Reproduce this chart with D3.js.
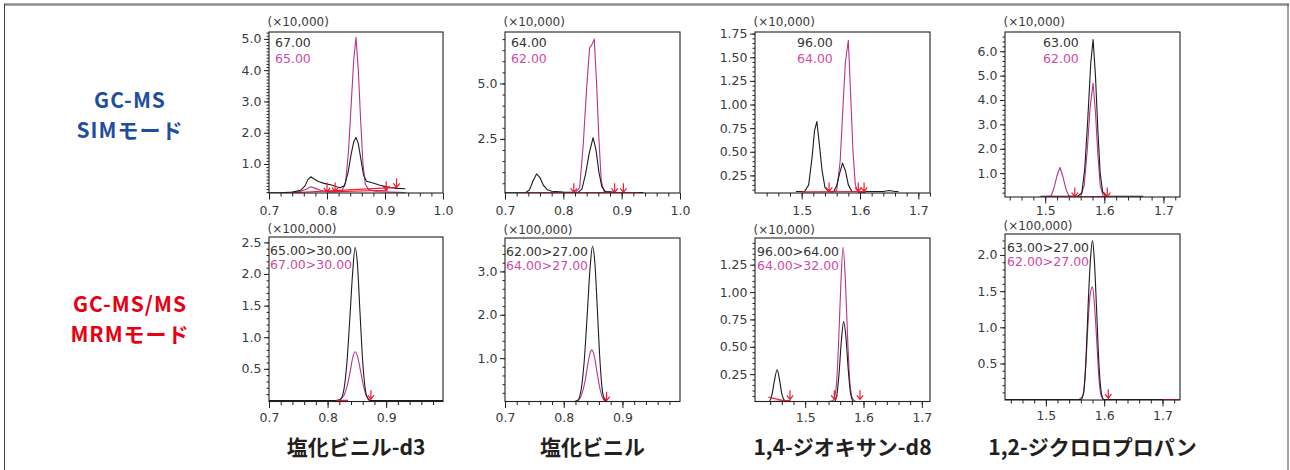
<!DOCTYPE html>
<html lang="ja">
<head>
<meta charset="utf-8">
<title>GC-MS SIM / GC-MS/MS MRM</title>
<script src="https://cdn.jsdelivr.net/npm/d3@7"></script>
<style>
  body { margin: 0; background: #fff; }
  svg { display: block; font-family: "DejaVu Sans", "Noto Sans", sans-serif; }
</style>
</head>
<body>
<svg id="chromatograms" width="1290" height="470"></svg>
<script>
// compounds (columns) and acquisition modes (rows)
const compounds = ["塩化ビニル-d3", "塩化ビニル", "1,4-ジオキサン-d8", "1,2-ジクロロプロパン"];
const modes = [["GC-MS", "SIMモード"], ["GC-MS/MS", "MRMモード"]];
const simIons = [["67.00", "65.00"], ["64.00", "62.00"], ["96.00", "64.00"], ["63.00", "62.00"]];
const mrmTransitions = [["65.00>30.00", "67.00>30.00"], ["62.00>27.00", "64.00>27.00"],
  ["96.00>64.00", "64.00>32.00"], ["63.00>27.00", "62.00>27.00"]];
const simMultipliers = ["(×10,000)", "(×10,000)", "(×10,000)", "(×10,000)"];
const mrmMultipliers = ["(×100,000)", "(×100,000)", "(×10,000)", "(×100,000)"];

// SIM traces [retention time (min), intensity]
const simVcd3Black = [[0.700,0.08],[0.720,0.08],[0.740,0.10],[0.755,0.16],[0.762,0.30],[0.767,0.50],[0.772,0.59],
  [0.778,0.52],[0.785,0.44],[0.795,0.38],[0.808,0.33],[0.815,0.28],[0.822,0.24],[0.830,0.30],[0.836,0.70],
  [0.842,1.35],[0.846,1.70],[0.850,1.85],[0.854,1.65],[0.858,1.20],[0.863,0.65],[0.868,0.45],[0.878,0.40],
  [0.890,0.33],[0.905,0.26],[0.920,0.22],[0.935,0.21]];
const simVcd3Magenta = [[0.740,0.09],[0.755,0.13],[0.765,0.20],[0.772,0.27],[0.780,0.22],[0.790,0.15],[0.805,0.11],
  [0.825,0.11],[0.832,0.40],[0.837,1.40],[0.842,3.00],[0.846,4.30],[0.850,5.05],[0.854,4.00],[0.858,2.40],
  [0.862,1.00],[0.866,0.35],[0.872,0.18],[0.885,0.12],[0.910,0.10],[0.935,0.09]];
const simVcBlack = [[0.700,0.07],[0.735,0.07],[0.742,0.20],[0.748,0.60],[0.754,0.92],[0.760,0.75],[0.766,0.40],
  [0.772,0.22],[0.780,0.14],[0.800,0.10],[0.825,0.08],[0.832,0.25],[0.838,0.90],[0.844,1.80],[0.851,2.56],
  [0.856,2.00],[0.861,1.00],[0.866,0.35],[0.872,0.12],[0.890,0.09],[0.937,0.08]];
const simVcMagenta = [[0.730,0.07],[0.820,0.07],[0.828,0.30],[0.834,2.20],[0.840,4.80],[0.845,6.60],[0.849,6.75],
  [0.853,7.00],[0.857,5.00],[0.861,2.50],[0.865,0.60],[0.870,0.12],[0.890,0.08],[0.937,0.07]];
const simDxBlack = [[1.490,0.08],[1.505,0.08],[1.512,0.15],[1.518,0.45],[1.522,0.72],[1.526,0.82],[1.530,0.60],
  [1.535,0.30],[1.540,0.12],[1.546,0.08],[1.555,0.08],[1.560,0.14],[1.565,0.27],[1.570,0.38],[1.575,0.30],
  [1.580,0.15],[1.586,0.08],[1.640,0.08],[1.650,0.09],[1.660,0.08],[1.666,0.08]];
const simDxMagenta = [[1.550,0.07],[1.560,0.09],[1.566,0.40],[1.571,1.00],[1.575,1.45],[1.580,1.68],[1.584,1.10],
  [1.588,0.50],[1.592,0.15],[1.597,0.07],[1.610,0.07]];
const simDcpBlack = [[1.492,0.05],[1.555,0.05],[1.562,0.20],[1.567,1.20],[1.572,3.20],[1.577,5.50],[1.581,6.48],
  [1.585,5.00],[1.589,2.80],[1.593,1.00],[1.597,0.25],[1.602,0.06],[1.620,0.05],[1.666,0.05]];
const simDcpMagenta = [[1.500,0.04],[1.510,0.06],[1.515,0.40],[1.520,0.90],[1.525,1.23],[1.530,0.85],[1.535,0.35],
  [1.540,0.06],[1.560,0.04],[1.566,0.50],[1.571,1.90],[1.576,3.70],[1.581,4.69],[1.585,3.50],[1.589,1.80],
  [1.593,0.50],[1.598,0.06],[1.610,0.04]];

// MRM traces
const mrmVcd3Black = [[0.700,0],[0.815,0],[0.822,0.02],[0.828,0.18],[0.833,0.60],[0.838,1.30],[0.843,2.05],
  [0.847,2.42],[0.851,2.15],[0.855,1.45],[0.859,0.75],[0.863,0.28],[0.867,0.06],[0.872,0],[0.997,0]];
const mrmVcd3Magenta = [[0.815,0],[0.822,0.02],[0.828,0.08],[0.834,0.25],[0.839,0.48],[0.843,0.68],[0.847,0.77],
  [0.851,0.70],[0.856,0.48],[0.861,0.24],[0.866,0.08],[0.871,0.02],[0.876,0]];
const mrmVcBlack = [[0.700,0],[0.818,0],[0.824,0.03],[0.830,0.30],[0.835,0.95],[0.840,2.00],[0.845,3.10],
  [0.849,3.58],[0.853,3.20],[0.857,2.20],[0.861,1.10],[0.865,0.35],[0.869,0.06],[0.874,0],[0.998,0]];
const mrmVcMagenta = [[0.818,0],[0.825,0.03],[0.831,0.18],[0.836,0.45],[0.841,0.85],[0.845,1.12],[0.848,1.19],
  [0.852,1.05],[0.857,0.65],[0.862,0.28],[0.867,0.06],[0.873,0]];
const mrmDxBlack = [[1.414,0],[1.438,0],[1.443,0.06],[1.447,0.18],[1.452,0.29],[1.456,0.20],[1.460,0.07],
  [1.465,0.01],[1.470,0],[1.550,0],[1.554,0.05],[1.558,0.25],[1.562,0.55],[1.566,0.73],[1.570,0.58],
  [1.574,0.28],[1.578,0.07],[1.583,0],[1.714,0]];
const mrmDxMagenta = [[1.540,0],[1.548,0.01],[1.553,0.12],[1.557,0.50],[1.561,1.05],[1.565,1.41],[1.569,1.10],
  [1.573,0.55],[1.577,0.15],[1.582,0.02],[1.588,0],[1.714,0]];
const mrmDcpBlack = [[1.430,0],[1.560,0],[1.565,0.10],[1.569,0.60],[1.573,1.40],[1.577,2.00],[1.580,2.20],
  [1.583,1.95],[1.587,1.25],[1.591,0.50],[1.595,0.10],[1.599,0],[1.730,0]];
const mrmDcpMagenta = [[1.556,0],[1.563,0.05],[1.568,0.40],[1.572,1.00],[1.576,1.45],[1.580,1.56],[1.583,1.35],
  [1.587,0.85],[1.591,0.30],[1.595,0.05],[1.600,0]];

// integration baselines (red) and peak markers (arrows)
const simBaselines = [
  [[[0.74,0.08],[0.92,0.25]], [[0.80,0.11],[0.905,0.16]]],
  [[[0.73,0.07],[0.93,0.08]]],
  [[[1.50,0.075],[1.61,0.08]]],
  [[[1.50,0.03],[1.61,0.035]]]
];
const simMarkers = [
  [[0.800,0.11],[0.814,0.12],[0.902,0.16],[0.920,0.25]],
  [[0.818,0.09],[0.888,0.09],[0.903,0.09]],
  [[1.547,0.08],[1.597,0.08],[1.607,0.08]],
  [[1.550,0.04],[1.605,0.04]]
];
const mrmBaselines = [
  [[[0.815,0.0],[0.835,0.0]]],
  [[[0.815,0.0],[0.830,0.0]]],
  [[[1.437,0.04],[1.470,0.0]], [[1.445,0.0],[1.475,0.01]]],
  [[[1.700,0.0],[1.730,0.0]]]
];
const mrmMarkers = [
  [[0.874,0.02]],
  [[0.873,0.02]],
  [[1.474,0.02],[1.550,0.02],[1.594,0.02]],
  [[1.607,0.02]]
];

const simTraces = [[simVcd3Magenta, simVcd3Black], [simVcMagenta, simVcBlack],
  [simDxMagenta, simDxBlack], [simDcpMagenta, simDcpBlack]];
const mrmTraces = [[mrmVcd3Magenta, mrmVcd3Black], [mrmVcMagenta, mrmVcBlack],
  [mrmDxMagenta, mrmDxBlack], [mrmDcpMagenta, mrmDcpBlack]];

// axis ticks
const simYTicks = [[1, 2, 3, 4, 5], [2.5, 5], [0.25, 0.5, 0.75, 1, 1.25, 1.5, 1.75], [1, 2, 3, 4, 5, 6]];
const simYMinor = [0.1, 0.5, 0.05, 0.2];
const simYFormat = [".1f", ".1f", ".2f", ".1f"];
const mrmYTicks = [[0.5, 1, 1.5, 2, 2.5], [1, 2, 3], [0.25, 0.5, 0.75, 1, 1.25], [0.5, 1, 1.5, 2]];
const mrmYMinor = [0.1, 0.2, 0.05, 0.1];
const mrmYFormat = [".1f", ".1f", ".2f", ".1f"];
const simXTicks = [[0.7, 0.8, 0.9, 1.0], [0.7, 0.8, 0.9, 1.0], [1.5, 1.6, 1.7], [1.5, 1.6, 1.7]];
const mrmXTicks = [[0.7, 0.8, 0.9], [0.7, 0.8, 0.9], [1.5, 1.6, 1.7], [1.5, 1.6, 1.7]];

// plot boxes and scale domains (xLab = baseline of x tick labels below the box)
const simLayout = [
  { left: 269, top: 32, right: 443, bottom: 193, x: [0.7, 1.0], y: [0.072, 5.22], minor: [0.7, 1.0], labelDx: 6, xLab: 22 },
  { left: 505, top: 32, right: 680, bottom: 193, x: [0.7, 1.0], y: [0.06, 7.32], minor: [0.7, 1.0], labelDx: 6, xLab: 22 },
  { left: 755, top: 32, right: 930, bottom: 193, x: [1.42, 1.72], y: [0.064, 1.767], minor: [1.44, 1.72], labelDx: 42, xLab: 22 },
  { left: 1005, top: 32, right: 1180, bottom: 197, x: [1.432, 1.728], y: [0.02, 6.79], minor: [1.44, 1.72], labelDx: 38, xLab: 18 }
];
const mrmLayout = [
  { left: 269, top: 237, right: 443, bottom: 401.5, x: [0.7, 0.997], y: [-0.017, 2.585], minor: [0.7, 0.98], labelDx: 1, xLab: 20 },
  { left: 505, top: 238, right: 680, bottom: 401.5, x: [0.7, 0.998], y: [0, 3.77], minor: [0.7, 0.98], labelDx: 1, xLab: 20 },
  { left: 755, top: 238, right: 930, bottom: 401.5, x: [1.414, 1.714], y: [0, 1.494], minor: [1.44, 1.7], labelDx: 2, xLab: 20 },
  { left: 1005, top: 234, right: 1180, bottom: 400, x: [1.43, 1.73], y: [-0.005, 2.29], minor: [1.44, 1.72], labelDx: 2, xLab: 20 }
];

const BLACK = "#1c1c1c", MAGENTA = "#b8338e", MAGENTA_TEXT = "#d04aa6", RED = "#ee1c2e", AXIS = "#3a3a3a";
const NUM_SIZE = 12.5;

class ChromatogramGrid {
  static createChart() {
    let svg = d3.select("#chromatograms");

    // outer frame
    svg.append("line").attr("x1", 4).attr("x2", 1289).attr("y1", 4.5).attr("y2", 4.5)
      .attr("stroke", "#8c8c8c").attr("stroke-width", 2.5);
    svg.append("line").attr("x1", 4.5).attr("x2", 4.5).attr("y1", 4).attr("y2", 470).attr("stroke", "#444");
    svg.append("line").attr("x1", 1288).attr("x2", 1288).attr("y1", 4).attr("y2", 470).attr("stroke", "#444");

    // row labels, two lines each
    let rowColors = ["#1f4ea1", "#e60012"],
      rowY = [107.5, 311.5];
    modes.forEach((m, r) => {
      m.forEach((s, k) => {
        svg.append("text")
          .attr("x", 130).attr("y", rowY[r] + k * 30.6)
          .attr("text-anchor", "middle")
          .attr("font-family", "'Noto Sans CJK JP', sans-serif")
          .attr("font-weight", "bold").attr("font-size", 21)
          .attr("letter-spacing", 1)
          .attr("fill", rowColors[r])
          .text(s);
      });
    });

    simLayout.forEach((p, i) =>
      ChromatogramGrid.drawPanel(svg, p, "sim" + i, {
        traces: simTraces[i], baselines: simBaselines[i], markers: simMarkers[i],
        labels: simIons[i], multiplier: simMultipliers[i], yTicks: simYTicks[i], yMinor: simYMinor[i],
        yFormat: simYFormat[i], xTicks: simXTicks[i], curve: d3.curveLinear, labelTop: [15, 30.5], multDy: -6
      }));
    mrmLayout.forEach((p, i) =>
      ChromatogramGrid.drawPanel(svg, p, "mrm" + i, {
        traces: mrmTraces[i], baselines: mrmBaselines[i], markers: mrmMarkers[i],
        labels: mrmTransitions[i], multiplier: mrmMultipliers[i], yTicks: mrmYTicks[i], yMinor: mrmYMinor[i],
        yFormat: mrmYFormat[i], xTicks: mrmXTicks[i], curve: d3.curveMonotoneX, labelTop: [17.5, 32], multDy: -4.5
      }));

    // compound names under each column
    compounds.forEach((c, i) => {
      let p = mrmLayout[i];
      svg.append("text")
        .attr("x", (p.left + p.right) / 2).attr("y", 455)
        .attr("text-anchor", "middle")
        .attr("font-family", "'Noto Sans CJK JP', sans-serif")
        .attr("font-weight", "bold").attr("font-size", 21)
        .attr("fill", "#231f20")
        .text(c);
    });
  }

  static drawPanel(svg, p, id, o) {
    let x = d3.scaleLinear().domain(p.x).range([p.left, p.right]),
      y = d3.scaleLinear().domain(p.y).range([p.bottom, p.top]),
      g = svg.append("g");

    g.append("clipPath").attr("id", "clip-" + id).append("rect")
      .attr("x", p.left).attr("y", p.top).attr("width", p.right - p.left).attr("height", p.bottom - p.top);

    // y axis: minor then major ticks
    let yMinor = d3.range(o.yMinor, p.y[1], o.yMinor).filter((v) => v >= p.y[0]);
    g.append("g").attr("transform", `translate(${p.left},0)`)
      .call(d3.axisLeft(y).tickValues(yMinor).tickSize(2.5).tickFormat(""))
      .call((s) => s.select(".domain").remove());
    g.append("g").attr("transform", `translate(${p.left},0)`)
      .call(d3.axisLeft(y).tickValues(o.yTicks).tickSize(5).tickPadding(2.5).tickFormat(d3.format(o.yFormat)))
      .call((s) => s.select(".domain").remove());

    // x axis
    let xMinor = d3.range(p.minor[0], p.minor[1] + 0.001, 0.02);
    g.append("g").attr("transform", `translate(0,${p.bottom})`)
      .call(d3.axisBottom(x).tickValues(xMinor).tickSize(3.5).tickFormat(""))
      .call((s) => s.select(".domain").remove());
    g.append("g").attr("transform", `translate(0,${p.bottom})`)
      .call(d3.axisBottom(x).tickValues(o.xTicks).tickSize(6.5).tickPadding(p.xLab - 6.5 - 0.71 * NUM_SIZE)
        .tickFormat(d3.format(".1f")))
      .call((s) => s.select(".domain").remove());

    g.selectAll(".tick line").attr("stroke", "#222");
    g.selectAll(".tick text").attr("fill", AXIS).attr("font-size", NUM_SIZE)
      .attr("font-family", "'DejaVu Sans', sans-serif");

    // traces
    let line = d3.line().x((d) => x(d[0])).y((d) => y(d[1])).curve(o.curve),
      plot = g.append("g").attr("clip-path", `url(#clip-${id})`);
    plot.selectAll("path.trace")
      .data(o.traces)
      .enter()
      .append("path")
      .attr("class", "trace")
      .attr("fill", "none")
      .attr("stroke", (d, i) => (i == 0 ? MAGENTA : BLACK))
      .attr("stroke-width", 1.1)
      .attr("stroke-linejoin", "round")
      .attr("d", line);

    plot.selectAll("path.base")
      .data(o.baselines)
      .enter()
      .append("path")
      .attr("class", "base")
      .attr("fill", "none")
      .attr("stroke", RED)
      .attr("stroke-width", 1.2)
      .attr("d", d3.line().x((d) => x(d[0])).y((d) => y(d[1])));

    plot.selectAll("path.marker")
      .data(o.markers)
      .enter()
      .append("path")
      .attr("class", "marker")
      .attr("fill", "none")
      .attr("stroke", RED)
      .attr("stroke-width", 1.2)
      .attr("d", (d) => {
        let px = x(d[0]), py = y(d[1]);
        return `M${px},${py - 9}L${px},${py}M${px - 3.2},${py - 4}L${px},${py}L${px + 3.2},${py - 4}`;
      });

    // plot frame
    g.append("rect")
      .attr("x", p.left).attr("y", p.top)
      .attr("width", p.right - p.left).attr("height", p.bottom - p.top)
      .attr("fill", "none").attr("stroke", "#222").attr("stroke-width", 1.1);

    // ion labels
    o.labels.forEach((t, k) => {
      g.append("text")
        .attr("x", p.left + p.labelDx).attr("y", p.top + o.labelTop[k])
        .attr("font-size", NUM_SIZE)
        .attr("fill", k == 0 ? "#333" : MAGENTA_TEXT)
        .text(t);
    });

    // intensity multiplier
    g.append("text")
      .attr("x", p.left - 1.5).attr("y", p.top + o.multDy)
      .attr("font-size", 12)
      .attr("fill", AXIS)
      .text(o.multiplier);
  }
}

ChromatogramGrid.createChart();
</script>
</body>
</html>
